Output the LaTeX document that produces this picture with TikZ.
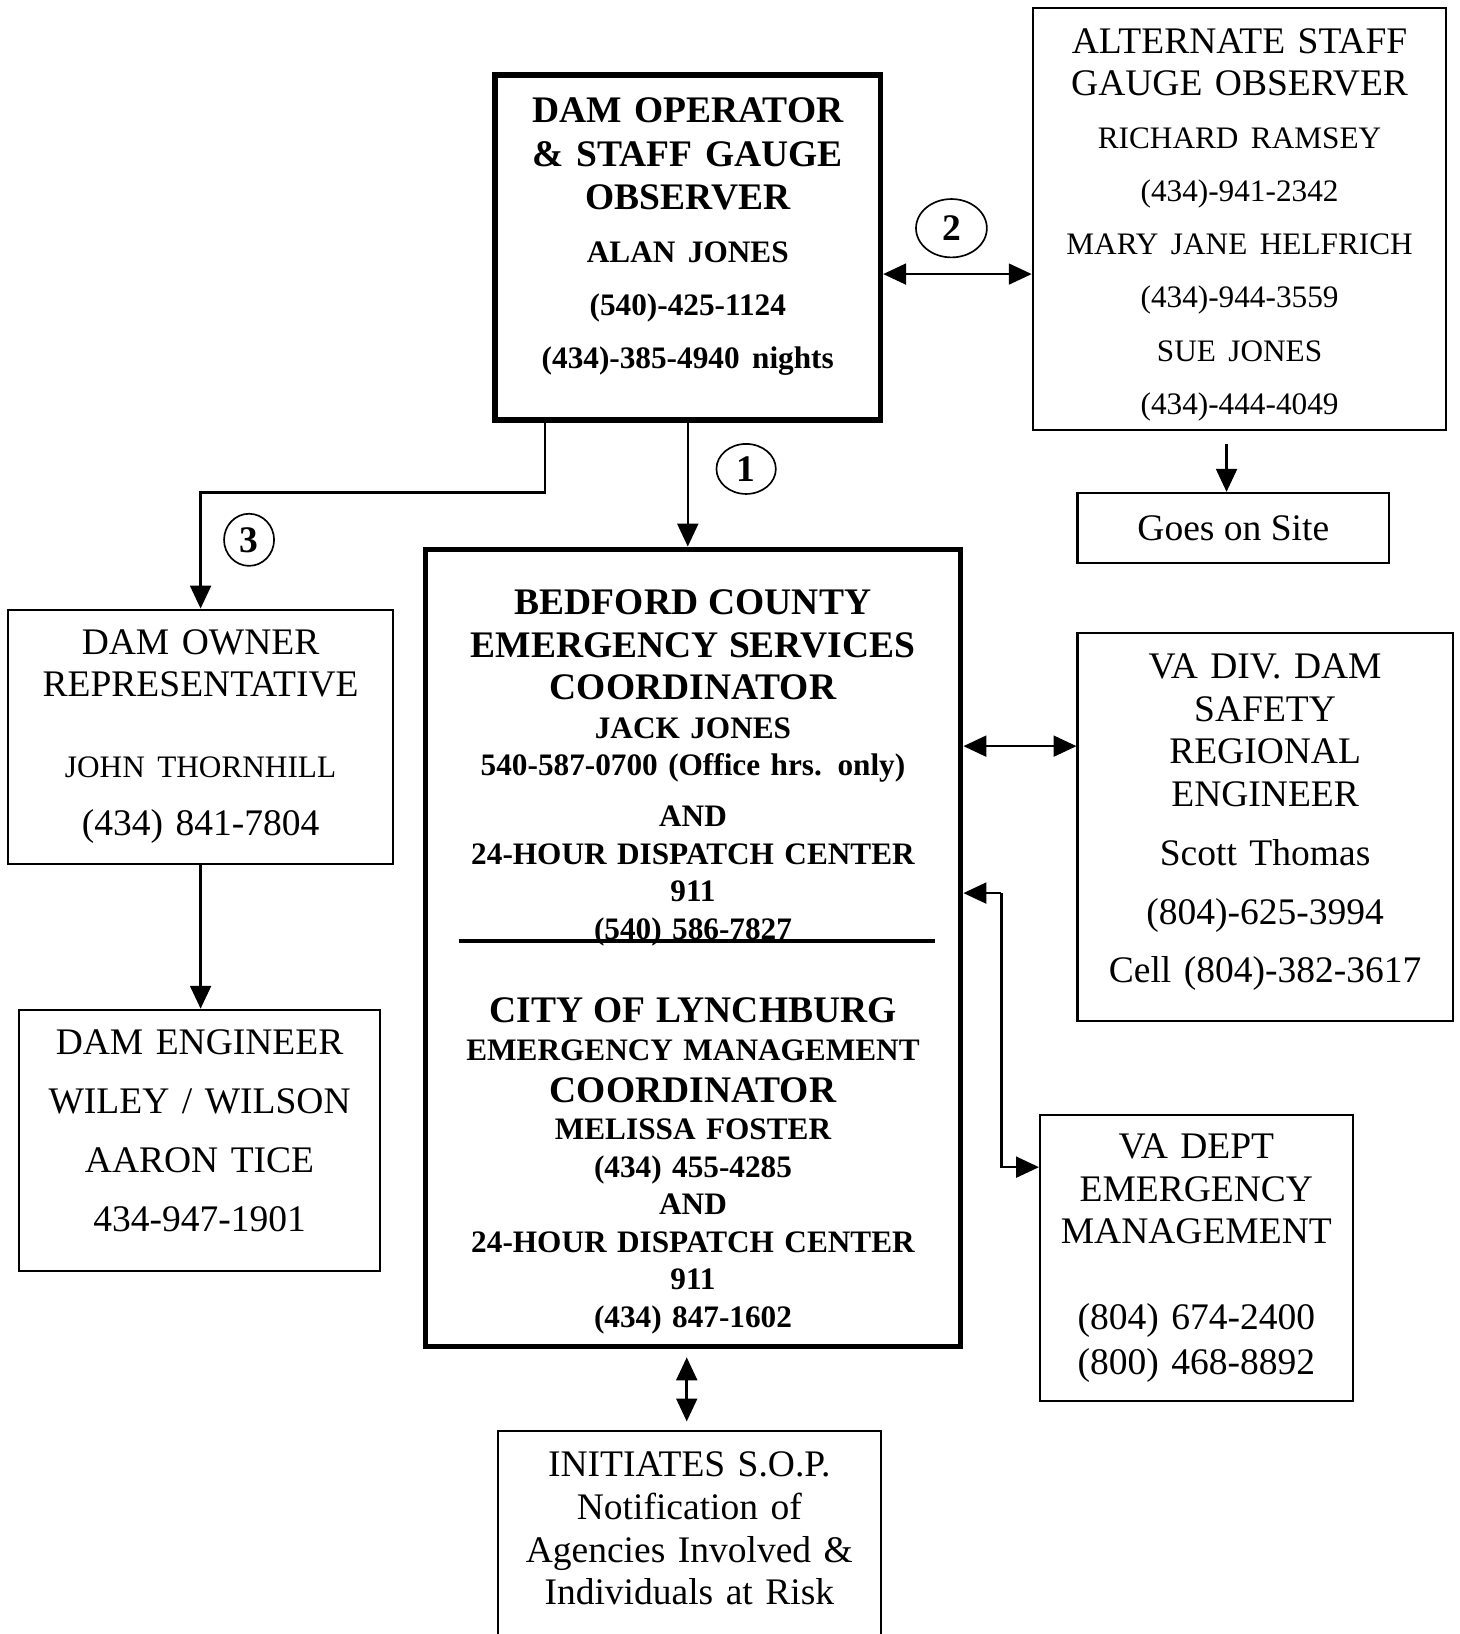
\documentclass[tikz,border=0pt]{standalone}
\usepackage{fontspec}
\setmainfont{Liberation Serif}
\usepackage{tikz}
\usetikzlibrary{arrows.meta,shapes.geometric}

\newcommand{\padtop}[1]{\rule{0pt}{#1}}
\newcommand{\padbot}[1]{\rule[-#1]{0pt}{#1}}
\newcommand{\bigln}[1]{{\fontsize{18}{20}\selectfont #1}}
\newcommand{\smln}[1]{{\fontsize{15}{18}\selectfont #1}}

\begin{document}
\begin{tikzpicture}[x=0.5pt,y=-0.5pt,
    box/.style={draw, line width=1pt, align=center, inner sep=2pt,
                execute at begin node={\setlength{\parindent}{0pt}}},
    heavybox/.style={box, line width=2.5pt},
    num/.style={draw, ellipse, line width=0.8pt, inner sep=0pt,
                font=\bfseries\fontsize{18}{18}\selectfont},
    tip/.tip={Triangle[length=11pt,width=10pt]},
    link/.style={line width=1.2pt, -tip},
    twoway/.style={line width=1.2pt, tip-tip},
    divider/.style={line width=1.5pt}]
\useasboundingbox (0,0) rectangle (1401,1568);

% operator and observers
\node[heavybox, minimum width=185pt, minimum height=165.5pt, text width=177pt,
      font=\bfseries\fontsize{18}{20.75}\selectfont] (op) at (660,237.5)
   {DAM OPERATOR\\
    \& STAFF GAUGE\\
    OBSERVER\\[4.75pt]
    \smln{ALAN JONES}\\[4.75pt]
    \smln{(540)-425-1124}\\[4.75pt]
    \smln{(434)-385-4940 nights}\padbot{13.5pt}};
\node[box, minimum width=198.5pt, minimum height=202.5pt, text width=190pt,
      font=\fontsize{18}{20}\selectfont] (alt) at (1189.5,210.5)
   {\padtop{17.2pt}ALTERNATE STAFF\\
    GAUGE OBSERVER\\[5.5pt]
    \smln{RICHARD RAMSEY}\\[5.5pt]
    \smln{(434)-941-2342}\\[5.5pt]
    \smln{MARY JANE HELFRICH}\\[5.5pt]
    \smln{(434)-944-3559}\\[5.5pt]
    \smln{SUE JONES}\\[5.5pt]
    \smln{(434)-444-4049}};
\node[box, minimum width=149.5pt, minimum height=33.5pt,
      font=\fontsize{18}{20}\selectfont] (goes) at (1183.5,506.5) {Goes on Site};

% owner side
\node[box, minimum width=184.5pt, minimum height=122pt, text width=176pt,
      font=\fontsize{18}{20}\selectfont] (own) at (192.5,707)
   {DAM OWNER\\
    REPRESENTATIVE\\[19pt]
    \smln{JOHN THORNHILL}\\[8pt]
    (434) 841-7804};
\node[box, minimum width=173.5pt, minimum height=125.5pt, text width=165pt,
      font=\fontsize{18}{28.25}\selectfont] (eng) at (191.5,1094.5)
   {DAM ENGINEER\\
    WILEY / WILSON\\
    AARON TICE\\
    434-947-1901\padbot{9.5pt}};

% coordinators
\node[heavybox, minimum width=257pt, minimum height=382.5pt, text width=249pt,
      font=\bfseries\fontsize{15}{18}\selectfont] (bed) at (665,909.5)
   {\padtop{25.2pt}\bigln{BEDFORD COUNTY}\\[2.5pt]
    \bigln{EMERGENCY SERVICES}\\[2.5pt]
    \bigln{COORDINATOR}\\[0.5pt]
    JACK JONES\\
    540-587-0700 (Office hrs. only)\\[6.5pt]
    AND\\
    24-HOUR DISPATCH CENTER\\
    911\\
    (540) 586-7827\\[22pt]
    \bigln{CITY OF LYNCHBURG}\\
    EMERGENCY MANAGEMENT\\[2pt]
    \bigln{COORDINATOR}\\
    MELISSA FOSTER\\
    (434) 455-4285\\
    AND\\
    24-HOUR DISPATCH CENTER\\
    911\\
    (434) 847-1602};
\draw[divider] (440,903) -- (897,903);

% state agencies
\node[box, minimum width=180pt, minimum height=186.5pt, text width=172pt,
      font=\fontsize{18}{20.5}\selectfont] (vadiv) at (1214,793.5)
   {VA DIV. DAM\\
    SAFETY\\
    REGIONAL\\
    ENGINEER\\[8pt]
    Scott Thomas\\[7.5pt]
    (804)-625-3994\\[7.5pt]
    Cell (804)-382-3617\padbot{8.4pt}};
\node[box, minimum width=150pt, minimum height=137pt, text width=142pt,
      font=\fontsize{18}{20.5}\selectfont] (vadem) at (1148,1207)
   {VA DEPT\\
    EMERGENCY\\
    MANAGEMENT\\[20.5pt]
    (804) 674-2400\\[1pt]
    (800) 468-8892};
\node[box, minimum width=183.5pt, minimum height=113.5pt, text width=175pt,
      font=\fontsize{18}{20.5}\selectfont] (sop) at (661.5,1486.5)
   {INITIATES S.O.P.\\
    Notification of\\
    Agencies Involved \&\\
    Individuals at Risk\padbot{20pt}};

% call order
\node[num, minimum width=34pt, minimum height=28pt] (n2) at (913,219) {2};
\node[num, minimum width=28.5pt, minimum height=24pt] (n1) at (716,450) {1};
\node[num, minimum width=24pt, minimum height=25pt] (n3) at (239,518) {3};

\draw[link] (op.south) -- (op.south |- bed.north);
\draw[twoway] ([yshift=-12.75pt]op.east) -- ([yshift=-12.75pt]op.east -| alt.west);
\draw[link] ([xshift=-68.5pt]op.south) -- ++(0,67) -| (own.north);
\draw[link] ([xshift=-6.25pt,yshift=-6pt]alt.south) -- ([xshift=-3.25pt]goes.north);
\draw[link] (own.south) -- (own.south |- eng.north);
\draw[twoway] ([yshift=96.75pt]bed.east) -- ([yshift=38.75pt]vadiv.west);
\coordinate (jn) at (961,857);
\draw[link] (jn) -- (jn -| bed.east);
\draw[link] (jn) |- ([yshift=43.5pt]vadem.west);
\draw[twoway] ([xshift=-3pt,yshift=-4pt]bed.south) -- ([xshift=-1.25pt,yshift=4pt]sop.north);
\end{tikzpicture}
\end{document}
